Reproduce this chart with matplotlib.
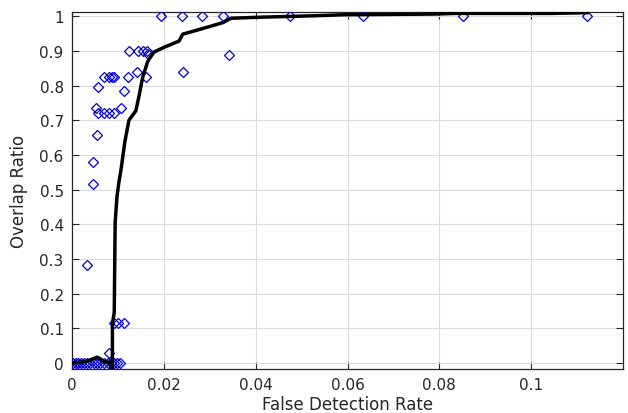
import matplotlib
matplotlib.use("Agg")
import matplotlib.pyplot as plt
import numpy as np

# Scatter points (diamonds)
pts_x = [0.0193, 0.0239, 0.0283, 0.0328, 0.0474, 0.0633, 0.0852, 0.1122,
         0.0343, 0.0241,
         0.0124, 0.0143, 0.0154, 0.0163, 0.0165,
         0.0070, 0.0080, 0.0088, 0.0092, 0.0122, 0.0141, 0.0161,
         0.0057, 0.0113,
         0.0052, 0.0057, 0.0070, 0.0080, 0.0091, 0.0107,
         0.0054, 0.0046, 0.0046, 0.0033,
         0.0091, 0.0100, 0.0113, 0.0080,
         0.0002, 0.0008, 0.0014, 0.0020, 0.0026, 0.0032, 0.0040, 0.0048,
         0.0055, 0.0062, 0.0070, 0.0078, 0.0085, 0.0092, 0.0098, 0.0104]
pts_y = [1.0, 1.0, 1.0, 1.0, 1.0, 1.0, 1.0, 1.0,
         0.888, 0.839,
         0.899, 0.899, 0.899, 0.899, 0.89,
         0.824, 0.824, 0.824, 0.824, 0.824, 0.839, 0.824,
         0.795, 0.784,
         0.735, 0.722, 0.72, 0.72, 0.72, 0.735,
         0.657, 0.579, 0.516, 0.282,
         0.115, 0.115, 0.115, 0.029,
         0.0, 0.0, 0.0, 0.0, 0.0, 0.0, 0.0, 0.0,
         0.0, 0.0, 0.0, 0.0, 0.0, 0.0, 0.0, 0.0]

# Curve
curve_x = [0.0, 0.0030, 0.0045, 0.0055, 0.0062, 0.0068, 0.0078, 0.0084, 0.0085,
           0.0088, 0.0088, 0.0090, 0.0092, 0.0094, 0.0098, 0.0102, 0.0107, 0.0115,
           0.0124, 0.0139, 0.0146, 0.0154, 0.0165, 0.0178, 0.0200, 0.0233,
           0.0241, 0.0265, 0.0302, 0.0330, 0.0346, 0.0410, 0.0525, 0.0590,
           0.0785, 0.0837, 0.1045, 0.1122]
curve_y = [0.0, 0.004, 0.012, 0.017, 0.012, 0.005, 0.003, 0.0, -0.015,
           -0.015, 0.11, 0.13, 0.147, 0.406, 0.48, 0.52, 0.56, 0.637,
           0.70, 0.727, 0.77, 0.824, 0.87, 0.896, 0.91, 0.928,
           0.948, 0.957, 0.971, 0.982, 0.994, 0.997, 1.001, 1.004,
           1.006, 1.008, 1.008, 1.01]

xticks = [0, 0.02, 0.04, 0.06, 0.08, 0.1]
xtick_labels = ["0", "0.02", "0.04", "0.06", "0.08", "0.1"]
yticks = [0, 0.1, 0.2, 0.3, 0.4, 0.5, 0.6, 0.7, 0.8, 0.9, 1.0]
ytick_labels = ["0", "0.1", "0.2", "0.3", "0.4", "0.5", "0.6", "0.7", "0.8", "0.9", "1"]

plt.rcParams['font.family'] = ['DejaVu Sans']
fig = plt.figure(figsize=(6.28, 4.14), dpi=100)
ax = fig.add_axes([72/628, 44/414, (623-72)/628, (370-13)/414])

ax.plot(pts_x, pts_y, linestyle='none', marker='D', markersize=4.8,
        markerfacecolor='none', markeredgecolor='#0000cc', markeredgewidth=0.9, zorder=3)
ax.plot(curve_x, curve_y, color='black', linewidth=2.5, zorder=4)

ax.set_xlim(0, 0.12)
ax.set_ylim(-0.017, 1.012)
ax.set_xticks(xticks)
ax.set_xticklabels(xtick_labels)
ax.set_yticks(yticks)
ax.set_yticklabels(ytick_labels)
ax.grid(True, color='#dcdcdc', linewidth=0.8)
ax.set_axisbelow(True)
ax.tick_params(direction='in', length=5, color='#262626', labelsize=11,
               labelcolor='#262626', top=True, right=True, pad=6)
for s in ax.spines.values():
    s.set_color('#262626')
    s.set_linewidth(0.9)
ax.set_xlabel('False Detection Rate', fontsize=12, color='#262626', labelpad=2)
ax.set_ylabel('Overlap Ratio', fontsize=12, color='#262626', labelpad=8)

fig.savefig('out.png', dpi=100)
